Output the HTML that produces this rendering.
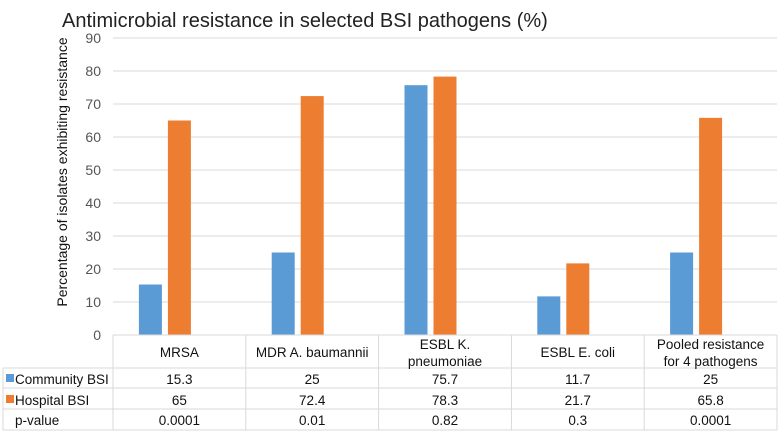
<!DOCTYPE html>
<html><head><meta charset="utf-8"><style>
body{margin:0;background:#fff;}
svg text{font-family:"Liberation Sans",Arial,sans-serif;}
</style></head><body>
<svg width="778" height="431" xmlns="http://www.w3.org/2000/svg">
<text x="62" y="27" font-size="20" fill="#222">Antimicrobial resistance in selected BSI pathogens (%)</text>
<text transform="translate(67,172) rotate(-90)" text-anchor="middle" font-size="14" fill="#111">Percentage of isolates exhibiting resistance</text>
<g id="grid"></g><g id="bars"></g><g id="table"></g>
</svg>
<script>
const categories=["MRSA","MDR A. baumannii","ESBL K.|pneumoniae","ESBL E. coli","Pooled resistance|for 4 pathogens"];
const community=[15.3,25,75.7,11.7,25];
const hospital=[65,72.4,78.3,21.7,65.8];
const pvalues=["0.0001","0.01","0.82","0.3","0.0001"];
const yTicks=[0,10,20,30,40,50,60,70,80,90];
const NS="http://www.w3.org/2000/svg";
const X0=113,X1=777,Y0=335,Y90=38;
const colW=(X1-X0)/categories.length;
const y=v=>Y0-(v/90)*(Y0-Y90);
const cx=i=>X0+colW*(i+0.5);
function mk(tag,attrs,parent,text){const e=document.createElementNS(NS,tag);for(const k in attrs)e.setAttribute(k,attrs[k]);if(text!==undefined)e.textContent=text;document.getElementById(parent).appendChild(e);return e;}
yTicks.forEach(t=>{
  if(t>0){const l=mk('line',{x1:X0,x2:X1,y1:y(t),y2:y(t),stroke:'#d9d9d9','stroke-width':1},'grid');
  
  }
  const tx=mk('text',{x:101,y:y(t)+5,'text-anchor':'end','font-size':14,fill:'#555'},'grid',t);
  
  
});
const bw=23,slot=29;
categories.forEach((c,i)=>{
  const b=mk('rect',{x:cx(i)-slot-bw/2,y:y(community[i]),width:bw,height:Y0-y(community[i]),fill:'#5b9bd5'},'bars');
  
  
  const h=mk('rect',{x:cx(i)-bw/2,y:y(hospital[i]),width:bw,height:Y0-y(hospital[i]),fill:'#ed7d31'},'bars');
  
  
});
const rows=[335,368,388,409,430];
const lc='#d9d9d9';
function line(x1,y1,x2,y2){const l=mk('line',{x1,y1,x2,y2,stroke:lc,'stroke-width':1},'table');

}
line(X0,rows[0],X1,rows[0]);
for(let r=1;r<5;r++)line(3,rows[r],X1,rows[r]);
line(3,rows[1],3,rows[4]);
for(let i=0;i<=categories.length;i++)line(X0+colW*i,rows[0],X0+colW*i,rows[4]);
categories.forEach((c,i)=>{
  const parts=c.split('|');
  parts.forEach((p,k)=>{
    const yy=parts.length===1?357:349+k*17;
    const t=mk('text',{x:cx(i),y:yy,'text-anchor':'middle','font-size':13.5,fill:'#111'},'table',p);
    
    
  });
  [[community[i],384],[hospital[i],405],[pvalues[i],425]].forEach(([v,yy])=>{
    const t=mk('text',{x:cx(i),y:yy,'text-anchor':'middle','font-size':13.5,fill:'#111'},'table',v);
    
    
  });
});
[["Community BSI",384,'#5b9bd5'],["Hospital BSI",405,'#ed7d31'],["p-value",425,null]].forEach(([n,yy,col])=>{
  if(col){const s=mk('rect',{x:6,y:yy-10,width:8,height:8,fill:col},'table');
  
  }
  const t=mk('text',{x:col?15:15,y:yy,'font-size':13.5,fill:'#111'},'table',n);
  
  
});
</script>
</body></html>
